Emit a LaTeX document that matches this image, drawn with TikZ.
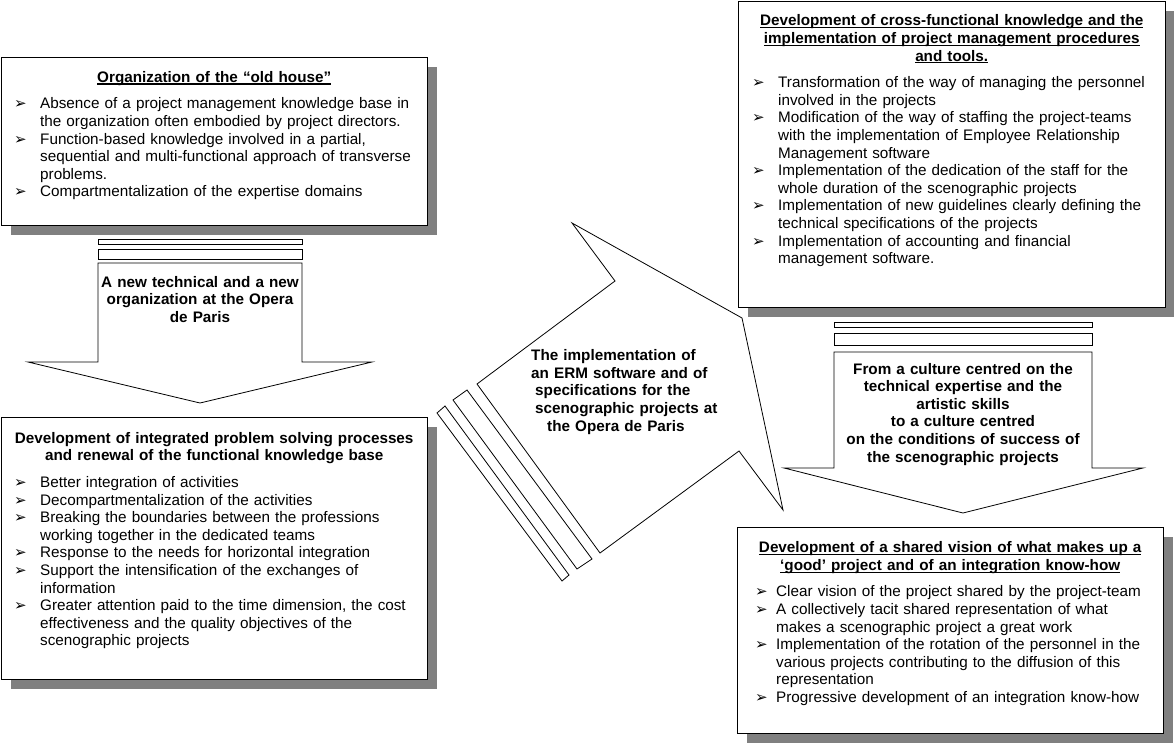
\documentclass[tikz,border=0pt]{standalone}
\usepackage{fontspec}
\setmainfont{Liberation Sans}
\newfontfamily\symfont{DejaVu Sans}
\usetikzlibrary{shadows}
\definecolor{shadowgray}{HTML}{808080}
\newlength\bulind
\newcommand\bulglyph{{\symfont\fontsize{15}{15}\selectfont ➢}}
\newcommand\bitem{\par\noindent\hangindent=\bulind\hangafter=1\hbox to \bulind{\bulglyph\hfil}}
\newcommand\ultitle[1]{\leavevmode\setbox0\hbox{#1}\rlap{\rule[-2.3pt]{\wd0}{1.1pt}}\box0}

\begin{document}
\begin{tikzpicture}[x=1pt,y=-1pt,
	infobox/.style={draw, line width=1.3pt, fill=white, anchor=north west, inner sep=0pt,
		drop shadow={shadow xshift=9pt, shadow yshift=-9pt, fill=shadowgray, opacity=1}},
	boxtext/.style={anchor=base west, inner sep=0pt, align=left, font=\fontsize{15.26}{17.6}\selectfont},
	bul/.style={execute at begin node={\setlength{\bulind}{#1}}},
	bigarrow/.style={draw, line width=0.8pt, fill=white},
	arrowtext/.style={anchor=base, inner sep=0pt, align=center, font=\fontsize{15.26}{17.6}\selectfont\bfseries}]
	\useasboundingbox (0,0) rectangle (1174,743);
	% block arrows
	\draw[bigarrow] (98,239) rectangle (302,244);
	\draw[bigarrow] (98,249) rectangle (302,259);
	\draw[bigarrow] (98,263) -- (302,263) -- (302,362) -- (372,362) -- (200,403) -- (28,362) -- (98,362) -- cycle;
	\draw[bigarrow] (834,322) rectangle (1092,327);
	\draw[bigarrow] (834,333) rectangle (1092,345);
	\draw[bigarrow] (834,352) -- (1092,352) -- (1092,468) -- (1143,468) -- (963,513) -- (784,468) -- (834,468) -- cycle;
	\draw[bigarrow] (445,406) -- (569,575) -- (562,581) -- (437,413) -- cycle;
	\draw[bigarrow] (467,390) -- (592,559) -- (577,569) -- (453,400) -- cycle;
	\draw[bigarrow] (477,384) -- (615,281) -- (572,223) -- (742,318) -- (783,510) -- (739,451) -- (600,553) -- cycle;
	\node[arrowtext, text width=200pt] (neworg) at (200,287.3) {A new technical and a new\\organization at the Opera\\de Paris};
	\node[arrowtext, text width=250pt] (culture) at (963,374) {From a culture centred on the\\technical expertise and the\\artistic skills\\to a culture centred\\on the conditions of success of\\the scenographic projects};
	\node[arrowtext, anchor=base west, align=left, text width=200pt] (erm) at (531,360.7) {The implementation of\\an ERM software and of\\\hspace*{4pt}specifications for the\\\hspace*{4pt}scenographic projects at\\\hspace*{16pt}the Opera de Paris};
	% boxes
	\node[infobox, minimum width=426pt, minimum height=168pt] (oldhouse) at (1,57) {};
	\node[infobox, minimum width=426pt, minimum height=262pt] (problemsolving) at (1,417) {};
	\node[infobox, minimum width=427pt, minimum height=306pt] (crossfunc) at (738,1) {};
	\node[infobox, minimum width=426pt, minimum height=206pt] (sharedvision) at (737,527) {};
	\node[boxtext, bul=26pt, text width=400pt] (oldhousetxt) at (14,82.3) {%
		{\centering\bfseries\ultitle{Organization of the “old house”}\par}
		\vspace{9pt}
		\bitem Absence of a project management knowledge base in\newline the organization often embodied by project directors.
		\bitem Function-based knowledge involved in a partial,\newline sequential and multi-functional approach of transverse\newline problems.
		\bitem Compartmentalization of the expertise domains\par};
	\node[boxtext, bul=26pt, text width=400pt] (problemtxt) at (14,443.3) {%
		{\centering\bfseries Development of integrated problem solving processes\\and renewal of the functional knowledge base\par}
		\vspace{9pt}
		\bitem Better integration of activities
		\bitem Decompartmentalization of the activities
		\bitem Breaking the boundaries between the professions\newline working together in the dedicated teams
		\bitem Response to the needs for horizontal integration
		\bitem Support the intensification of the exchanges of\newline information
		\bitem Greater attention paid to the time dimension, the cost\newline effectiveness and the quality objectives of the\newline scenographic projects\par};
	\node[boxtext, bul=26pt, text width=399pt] (crossfunctxt) at (752,26) {%
		{\centering\bfseries\ultitle{Development of cross-functional knowledge and the}\\\ultitle{implementation of project management procedures}\\\ultitle{and tools.}\par}
		\vspace{9pt}
		\bitem Transformation of the way of managing the personnel\newline involved in the projects
		\bitem Modification of the way of staffing the project-teams\newline with the implementation of Employee Relationship\newline Management software
		\bitem Implementation of the dedication of the staff for the\newline whole duration of the scenographic projects
		\bitem Implementation of new guidelines clearly defining the\newline technical specifications of the projects
		\bitem Implementation of accounting and financial\newline management software.\par};
	\node[boxtext, bul=21pt, text width=390pt] (visiontxt) at (755,552.7) {%
		{\centering\bfseries\ultitle{Development of a shared vision of what makes up a}\\\ultitle{‘good’ project and of an integration know-how}\par}
		\vspace{9pt}
		\bitem Clear vision of the project shared by the project-team
		\bitem A collectively tacit shared representation of what\newline makes a scenographic project a great work
		\bitem Implementation of the rotation of the personnel in the\newline various projects contributing to the diffusion of this\newline representation
		\bitem Progressive development of an integration know-how\par};
\end{tikzpicture}
\end{document}
